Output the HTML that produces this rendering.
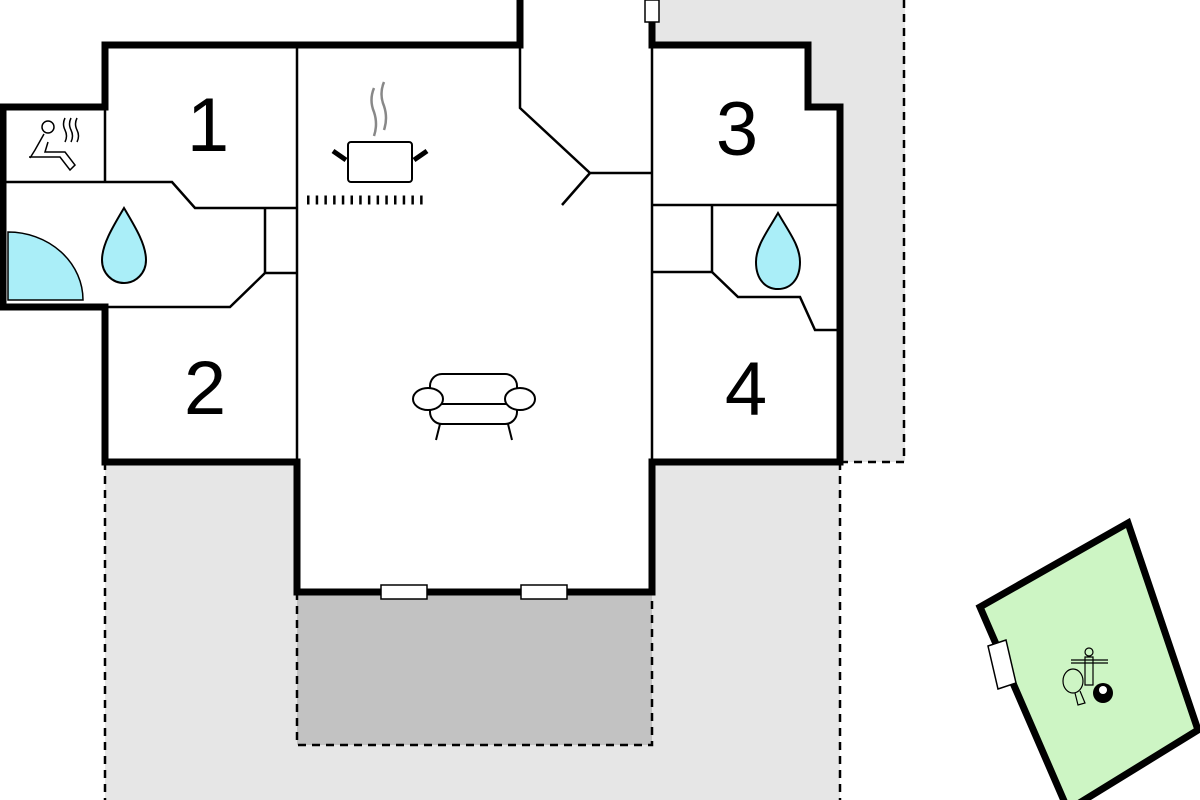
<!DOCTYPE html>
<html><head><meta charset="utf-8"><style>html,body{margin:0;padding:0;background:#fff}svg{display:block}</style></head><body>
<svg width="1200" height="800" viewBox="0 0 1200 800" xmlns="http://www.w3.org/2000/svg">
<rect x="655" y="0" width="250" height="462" fill="#e6e6e6"/>
<rect x="105" y="462" width="735" height="338" fill="#e6e6e6"/>
<rect x="297" y="592" width="355" height="153" fill="#c2c2c2"/>
<g stroke="#000" stroke-width="2.5" stroke-dasharray="8,6" fill="none">
<path d="M904 0 V462 H840"/>
<path d="M105 462 V800"/><path d="M840 462 V800"/>
<path d="M297 592 V745 H652 V592"/>
</g>
<path d="M105 45 H520 V0 H652 V45 H808 V107 H840 V462 H652 V592 H297 V462 H105 V307 H3 V107 H105 Z" fill="#fff"/>
<path d="M8 232 A75 68 0 0 1 83 300 H8 Z" fill="#aaeef8" stroke="#000" stroke-width="1.5"/>
<g stroke="#000" stroke-width="7" fill="none" stroke-linejoin="miter">
<path d="M520 0 V45 H105 V107 H3 V307 H105 V462 H297 V592 H652 V462 H840 V107 H808 V45 H652 V22"/>
</g>
<rect x="645" y="0" width="14" height="22" fill="#fff" stroke="#000" stroke-width="1.5"/>
<g stroke="#000" stroke-width="2.5" fill="none">
<path d="M297 45 V592"/>
<path d="M105 107 V182"/>
<path d="M5 182 H172 L195 208 H297"/>
<path d="M105 307 H230 L265 273 H297"/>
<path d="M265 208 V273"/>
<path d="M520 45 V108 L590 173 H652"/>
<path d="M590 173 L562 205"/>
<path d="M652 45 V462"/>
<path d="M652 205 H838"/>
<path d="M712 205 V272 H652"/>
<path d="M712 272 L738 297 H800 L815 330 H838"/>
</g>
<rect x="381" y="585" width="46" height="14" fill="#fff" stroke="#000" stroke-width="1.5"/>
<rect x="521" y="585" width="46" height="14" fill="#fff" stroke="#000" stroke-width="1.5"/>
<g font-family="Liberation Sans, sans-serif" font-size="76" text-anchor="middle" fill="#000">
<text x="208" y="151">1</text><text x="205" y="414">2</text><text x="737" y="155">3</text><text x="746" y="415">4</text>
</g>
<g fill="#aaeef8" stroke="#000" stroke-width="2">
<path d="M124 208 C112 228 102 245 102 260 C102 273 112 283 124 283 C136 283 146 273 146 260 C146 245 136 228 124 208 Z"/>
<path d="M778 213 C767 232 756 246 756 262 C756 280 766 289 778 289 C790 289 800 280 800 262 C800 246 789 232 778 213 Z"/>
</g>
<g stroke="#000" stroke-width="1.5" fill="none">
<circle cx="48" cy="127" r="6"/>
<path d="M44 134 L35 150 L30 158 M29 157 H60 L70 170 L75 165 L65 152 H45 L48 142"/>
<path d="M65 118 q-3 6 0 12 q3 6 0 12 M71 118 q-3 6 0 12 q3 6 0 12 M77 118 q-3 6 0 12 q3 6 0 12"/>
</g>
<g stroke="#888" stroke-width="2.5" fill="none"><path d="M374 88 q-5 12 0 24 q4 12 0 24 M384 82 q-5 12 0 24 q4 12 0 24"/></g>
<rect x="348" y="142" width="64" height="40" rx="3" fill="#fff" stroke="#000" stroke-width="2"/>
<g stroke="#000" stroke-width="5"><path d="M333 151 L346 160 M427 151 L414 160"/></g>
<path d="M307 200 H427" stroke="#000" stroke-width="9" stroke-dasharray="2.5,6.2"/>
<g stroke="#000" stroke-width="2" fill="#fff">
<rect x="430" y="374" width="87" height="50" rx="12"/>
<path d="M440 404 H508 M440 424 L436 440 M508 424 L512 440" fill="none"/>
<ellipse cx="428" cy="399" rx="15" ry="11"/>
<ellipse cx="520" cy="399" rx="15" ry="11"/>
</g>
<polygon points="980,607 1128,523 1198,730 1068,810 " fill="#cdf5c4" stroke="#000" stroke-width="7" stroke-linejoin="miter"/>
<polygon points="988,646 1006,640 1016,683 998,689" fill="#fff" stroke="#000" stroke-width="1.5"/>
<g stroke="#000" stroke-width="1.2" fill="none">
<circle cx="1089" cy="652" r="4"/><path d="M1071 660 H1108 M1071 663 H1108 M1085 657 V685 H1093 V657 Z"/>
<ellipse cx="1073" cy="681" rx="10" ry="12"/><path d="M1075 693 L1078 705 L1085 703 L1080 691"/>
</g>
<circle cx="1103" cy="693" r="10" fill="#000"/><circle cx="1103" cy="690" r="4" fill="#fff"/>
</svg>
</body></html>
